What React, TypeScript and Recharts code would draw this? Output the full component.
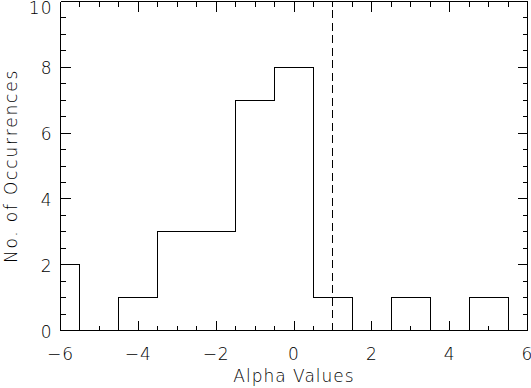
import { ComposedChart, Line, XAxis, YAxis, ReferenceLine } from "recharts";

// histogram of alpha values, unit bins centred on integers
const binCenters = [-6, -5, -4, -3, -2, -1, 0, 1, 2, 3, 4, 5, 6];
const counts = [2, 0, 1, 3, 3, 7, 8, 1, 0, 1, 0, 1, 0];
const xMajor = [-6, -4, -2, 0, 2, 4, 6];
const yMajor = [0, 2, 4, 6, 8, 10];
const cutoff = 1;

const xMin = -6;
const xMax = 6;

// step points at the left edge of every bin, clipped to the axis range
const steps = binCenters.map((c, i) => ({ x: Math.max(c - 0.5, xMin), count: counts[i] }));
steps.push({ x: xMax, count: counts[counts.length - 1] });

const xMinor: number[] = [];
for (let v = xMin; v <= xMax; v += 0.5) xMinor.push(v);
const yMinor: number[] = [];
for (let v = 0; v <= 10; v += 0.5) yMinor.push(v);

const font = {
  fontFamily: "'DejaVu Sans', sans-serif",
  fontSize: 17,
  fontWeight: 200,
  letterSpacing: 1,
};

const fmt = (v: number) => (v < 0 ? `\u2212${-v}` : `${v}`);

function BottomTick(props: any) {
  const { x, y, payload } = props;
  const major = xMajor.includes(payload.value);
  return (
    <g>
      <line x1={x} x2={x} y1={y} y2={y - (major ? 10 : 5)} stroke="#000" shapeRendering="crispEdges" />
      {major && (
        <text x={x} y={y + 29} textAnchor="middle" fill="#000" style={font}>
          {fmt(payload.value)}
        </text>
      )}
    </g>
  );
}

function TopTick(props: any) {
  const { x, y, payload } = props;
  const major = xMajor.includes(payload.value);
  return <line x1={x} x2={x} y1={y} y2={y + (major ? 10 : 5)} stroke="#000" shapeRendering="crispEdges" />;
}

function LeftTick(props: any) {
  const { x, y, payload } = props;
  const major = yMajor.includes(payload.value);
  return (
    <g>
      <line x1={x} x2={x + (major ? 10 : 5)} y1={y} y2={y} stroke="#000" shapeRendering="crispEdges" />
      {major && (
        <text x={x - 8} y={Math.max(y + 7, 14)} textAnchor="end" fill="#000" style={font}>
          {fmt(payload.value)}
        </text>
      )}
    </g>
  );
}

function RightTick(props: any) {
  const { x, y, payload } = props;
  const major = yMajor.includes(payload.value);
  return <line x1={x} x2={x - (major ? 10 : 5)} y1={y} y2={y} stroke="#000" shapeRendering="crispEdges" />;
}

const frame = { stroke: "#000", shapeRendering: "crispEdges" };

export default function App() {
  return (
    <div style={{ position: "absolute", left: 0, top: 0, background: "#fff" }}>
      <ComposedChart
        width={531}
        height={388}
        data={steps}
        margin={{ top: 0, right: 0, bottom: 0, left: 0 }}
      >
        <XAxis
          xAxisId="b"
          dataKey="x"
          type="number"
          domain={[xMin, xMax]}
          ticks={xMinor}
          interval={0}
          tickSize={0}
          tickMargin={0}
          tick={<BottomTick />}
          height={57.5}
          axisLine={frame}
          label={{
            content: ({ viewBox }: any) => (
              <text
                x={viewBox.x + viewBox.width / 2}
                y={viewBox.y + 51.5}
                textAnchor="middle"
                fill="#000"
                style={font}
              >
                Alpha Values
              </text>
            ),
          }}
        />
        <XAxis
          xAxisId="t"
          orientation="top"
          dataKey="x"
          type="number"
          domain={[xMin, xMax]}
          ticks={xMinor}
          interval={0}
          tickSize={0}
          tickMargin={0}
          tick={<TopTick />}
          height={1.5}
          axisLine={frame}
        />
        <YAxis
          yAxisId="l"
          type="number"
          domain={[0, 10]}
          ticks={yMinor}
          interval={0}
          tickSize={0}
          tickMargin={0}
          tick={<LeftTick />}
          width={60.5}
          axisLine={frame}
          label={{
            content: ({ viewBox }: any) => {
              const cy = viewBox.y + viewBox.height / 2;
              return (
                <text
                  x={17}
                  y={cy}
                  transform={`rotate(-90, 17, ${cy})`}
                  textAnchor="middle"
                  fill="#000"
                  style={{ ...font, letterSpacing: 1.8 }}
                >
                  No. of Occurrences
                </text>
              );
            },
          }}
        />
        <YAxis
          yAxisId="r"
          orientation="right"
          type="number"
          domain={[0, 10]}
          ticks={yMinor}
          interval={0}
          tickSize={0}
          tickMargin={0}
          tick={<RightTick />}
          width={3.5}
          axisLine={frame}
        />
        {/* invisible copy so the mirrored frame axes have a series */}
        <Line
          xAxisId="t"
          yAxisId="r"
          dataKey="count"
          type="stepAfter"
          stroke="none"
          dot={false}
          activeDot={false}
          isAnimationActive={false}
        />
        <Line
          xAxisId="b"
          yAxisId="l"
          dataKey="count"
          type="stepAfter"
          stroke="#000"
          strokeWidth={1}
          shapeRendering="crispEdges"
          dot={false}
          activeDot={false}
          isAnimationActive={false}
        />
        <ReferenceLine
          xAxisId="b"
          yAxisId="l"
          x={cutoff}
          stroke="#000"
          strokeWidth={1}
          strokeDasharray="8 4.5"
          shapeRendering="crispEdges"
        />
      </ComposedChart>
    </div>
  );
}
